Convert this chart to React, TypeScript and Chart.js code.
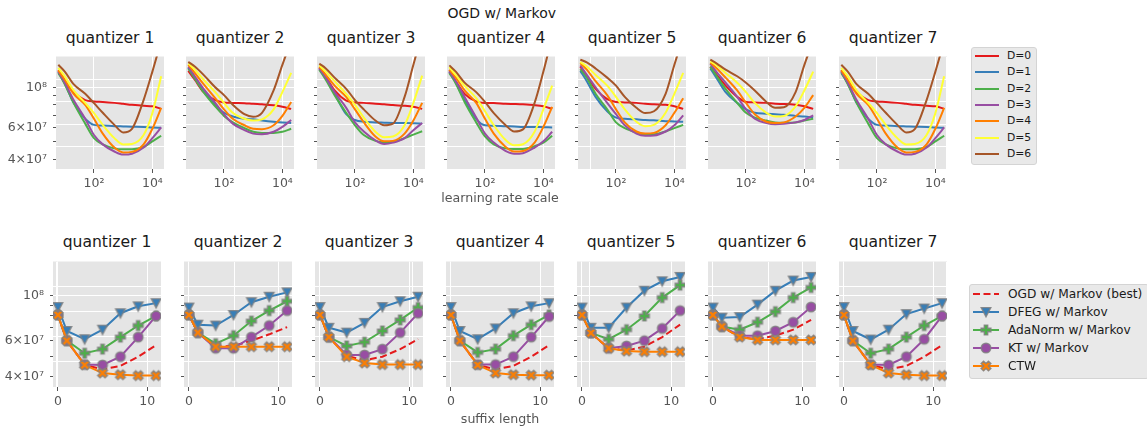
import React, { useEffect, useRef } from "react";
import { Chart, registerables } from "chart.js";

Chart.register(...registerables);

const FONT = "'DejaVu Sans', 'Liberation Sans', sans-serif";

// ---------------- data: top row (OGD w/ Markov, loss vs learning rate scale) ----------------
const LR_SCALE = [6, 10, 20, 50, 100, 200, 500, 1000, 2000, 5000, 10000, 20000];
const DEPTH_LABELS = ["D=0", "D=1", "D=2", "D=3", "D=4", "D=5", "D=6"];
const DEPTH_COLORS = ["#e41a1c", "#377eb8", "#4daf4a", "#984ea3", "#ff7f00", "#ffff33", "#a65628"];

const Q1_OGD = [
  [12.4e7, 10.7e7, 9.4e7, 8.5e7, 8.35e7, 8.3e7, 8.2e7, 8.1e7, 8.0e7, 7.9e7, 7.85e7, 7.6e7],
  [12.2e7, 10.5e7, 8.2e7, 6.7e7, 6.2e7, 6.15e7, 6.1e7, 6.08e7, 6.06e7, 6.04e7, 6.0e7, 5.97e7],
  [12.0e7, 10.4e7, 8.2e7, 6.3e7, 5.24e7, 4.84e7, 4.6e7, 4.55e7, 4.55e7, 4.68e7, 5.03e7, 5.4e7],
  [12.2e7, 10.6e7, 8.5e7, 6.7e7, 5.45e7, 4.84e7, 4.42e7, 4.25e7, 4.3e7, 4.65e7, 5.24e7, 6.0e7],
  [12.4e7, 11.0e7, 9.2e7, 8.0e7, 6.7e7, 5.55e7, 4.65e7, 4.37e7, 4.4e7, 4.84e7, 5.9e7, 7.7e7],
  [12.8e7, 11.5e7, 9.6e7, 8.2e7, 7.2e7, 6.2e7, 5.24e7, 4.84e7, 4.87e7, 5.45e7, 7.2e7, 11.5e7],
  [13.3e7, 12.2e7, 10.4e7, 9.2e7, 8.17e7, 7.23e7, 6.2e7, 5.63e7, 5.9e7, 8.5e7, 12.2e7, 18e7],
];
const Q2_OGD = [
  [12.3e7, 11.0e7, 9.4e7, 8.5e7, 8.25e7, 8.2e7, 8.17e7, 8.1e7, 8.05e7, 7.95e7, 7.8e7, 7.6e7],
  [12.8e7, 11.2e7, 9.5e7, 8.0e7, 7.23e7, 6.9e7, 6.7e7, 6.65e7, 6.55e7, 6.45e7, 6.4e7, 6.35e7],
  [12.7e7, 11.2e7, 9.4e7, 7.85e7, 6.95e7, 6.4e7, 5.95e7, 5.68e7, 5.6e7, 5.6e7, 5.68e7, 5.9e7],
  [13.0e7, 11.5e7, 9.8e7, 8.2e7, 7.1e7, 6.3e7, 5.8e7, 5.55e7, 5.5e7, 5.68e7, 6.04e7, 6.6e7],
  [13.3e7, 12.0e7, 10.4e7, 8.7e7, 7.55e7, 6.7e7, 6.17e7, 5.9e7, 5.87e7, 6.17e7, 6.95e7, 8.3e7],
  [13.5e7, 12.5e7, 11.0e7, 9.4e7, 8.2e7, 7.23e7, 6.7e7, 6.55e7, 6.65e7, 7.55e7, 9.4e7, 12.0e7],
  [13.8e7, 13.0e7, 11.7e7, 10.0e7, 9.05e7, 8.0e7, 7.1e7, 6.87e7, 7.23e7, 9.6e7, 13.3e7, 18e7],
];
const Q3_OGD = [
  [12.8e7, 11.4e7, 9.6e7, 8.45e7, 8.25e7, 8.2e7, 8.1e7, 8.05e7, 7.97e7, 7.9e7, 7.8e7, 7.6e7],
  [12.7e7, 11.2e7, 9.2e7, 7.1e7, 6.6e7, 6.45e7, 6.4e7, 6.38e7, 6.36e7, 6.35e7, 6.33e7, 6.3e7],
  [12.5e7, 11.0e7, 9.05e7, 7.23e7, 6.17e7, 5.45e7, 5.06e7, 4.98e7, 5.0e7, 5.24e7, 5.48e7, 5.72e7],
  [12.7e7, 11.3e7, 9.4e7, 7.7e7, 6.4e7, 5.7e7, 5.1e7, 4.87e7, 4.95e7, 5.24e7, 5.8e7, 6.35e7],
  [13.0e7, 11.7e7, 10.2e7, 8.85e7, 7.55e7, 6.41e7, 5.35e7, 5.03e7, 5.06e7, 5.55e7, 6.55e7, 8.2e7],
  [13.2e7, 12.2e7, 10.8e7, 9.2e7, 8.0e7, 6.8e7, 5.68e7, 5.3e7, 5.35e7, 6.17e7, 8.2e7, 11.6e7],
  [13.5e7, 12.7e7, 11.3e7, 9.8e7, 8.5e7, 7.55e7, 6.55e7, 6.17e7, 6.3e7, 8.85e7, 13.3e7, 20e7],
];
const Q4_OGD = [
  [12.4e7, 10.8e7, 9.2e7, 8.35e7, 8.2e7, 8.2e7, 8.1e7, 8.08e7, 8.05e7, 7.97e7, 7.85e7, 7.6e7],
  [12.2e7, 10.6e7, 8.5e7, 6.7e7, 6.17e7, 6.14e7, 6.1e7, 6.08e7, 6.04e7, 6.04e7, 6.02e7, 6.0e7],
  [12.0e7, 10.5e7, 8.3e7, 6.4e7, 5.35e7, 4.84e7, 4.6e7, 4.57e7, 4.57e7, 4.73e7, 4.95e7, 5.4e7],
  [12.2e7, 10.8e7, 8.85e7, 6.8e7, 5.55e7, 4.95e7, 4.46e7, 4.3e7, 4.33e7, 4.65e7, 5.03e7, 5.68e7],
  [12.5e7, 11.3e7, 9.6e7, 8.2e7, 6.7e7, 5.55e7, 4.7e7, 4.42e7, 4.45e7, 4.95e7, 6.04e7, 7.8e7],
  [12.9e7, 11.7e7, 10.2e7, 8.7e7, 7.37e7, 6.17e7, 5.13e7, 4.78e7, 4.85e7, 5.68e7, 7.55e7, 10.2e7],
  [13.2e7, 12.2e7, 10.6e7, 9.4e7, 8.3e7, 7.2e7, 6.2e7, 5.7e7, 5.86e7, 8.2e7, 12.2e7, 19e7],
];
const Q5_OGD = [
  [13.0e7, 11.5e7, 9.8e7, 8.6e7, 8.3e7, 8.25e7, 8.2e7, 8.1e7, 8.05e7, 8.0e7, 7.85e7, 7.6e7],
  [12.3e7, 10.8e7, 8.85e7, 7.37e7, 6.8e7, 6.7e7, 6.65e7, 6.6e7, 6.57e7, 6.5e7, 6.48e7, 6.45e7],
  [12.6e7, 11.3e7, 9.2e7, 7.55e7, 6.4e7, 5.95e7, 5.63e7, 5.48e7, 5.5e7, 5.7e7, 5.95e7, 6.2e7],
  [13.2e7, 11.7e7, 10.0e7, 8.2e7, 7.1e7, 6.17e7, 5.55e7, 5.4e7, 5.42e7, 5.7e7, 6.17e7, 7.0e7],
  [13.6e7, 12.5e7, 10.8e7, 9.05e7, 7.55e7, 6.4e7, 5.7e7, 5.55e7, 5.6e7, 6.17e7, 7.23e7, 8.7e7],
  [13.8e7, 13.0e7, 11.7e7, 10.2e7, 8.85e7, 7.55e7, 6.45e7, 6.1e7, 6.2e7, 7.23e7, 9.2e7, 12.0e7],
  [14.2e7, 13.7e7, 12.7e7, 11.3e7, 10.2e7, 8.85e7, 7.7e7, 7.2e7, 7.37e7, 9.2e7, 13.3e7, 19e7],
];
const Q6_OGD = [
  [13.0e7, 11.7e7, 10.2e7, 8.85e7, 8.3e7, 8.25e7, 8.2e7, 8.1e7, 8.08e7, 8.0e7, 7.85e7, 7.6e7],
  [12.7e7, 11.2e7, 9.4e7, 8.2e7, 7.55e7, 7.23e7, 7.15e7, 7.1e7, 7.05e7, 6.95e7, 6.9e7, 6.8e7],
  [13.0e7, 11.5e7, 9.8e7, 8.2e7, 7.23e7, 6.8e7, 6.55e7, 6.4e7, 6.38e7, 6.4e7, 6.55e7, 6.7e7],
  [13.5e7, 12.1e7, 10.6e7, 8.85e7, 7.55e7, 6.7e7, 6.35e7, 6.25e7, 6.28e7, 6.4e7, 6.6e7, 7.0e7],
  [13.7e7, 12.7e7, 11.3e7, 9.6e7, 8.2e7, 7.1e7, 6.45e7, 6.35e7, 6.4e7, 6.9e7, 7.7e7, 9.05e7],
  [13.9e7, 13.2e7, 12.0e7, 10.6e7, 9.4e7, 8.2e7, 7.23e7, 6.9e7, 6.95e7, 7.85e7, 9.6e7, 12.2e7],
  [14.2e7, 13.5e7, 12.5e7, 11.5e7, 10.6e7, 9.6e7, 8.3e7, 7.7e7, 7.75e7, 9.4e7, 13.3e7, 18e7],
];
const Q7_OGD = [
  [12.4e7, 10.7e7, 9.4e7, 8.5e7, 8.35e7, 8.3e7, 8.2e7, 8.1e7, 8.0e7, 7.9e7, 7.85e7, 7.6e7],
  [12.2e7, 10.5e7, 8.2e7, 6.7e7, 6.2e7, 6.15e7, 6.1e7, 6.08e7, 6.06e7, 6.04e7, 6.0e7, 5.97e7],
  [12.0e7, 10.4e7, 8.2e7, 6.3e7, 5.24e7, 4.84e7, 4.6e7, 4.55e7, 4.55e7, 4.68e7, 5.03e7, 5.4e7],
  [12.2e7, 10.6e7, 8.5e7, 6.7e7, 5.45e7, 4.84e7, 4.42e7, 4.25e7, 4.3e7, 4.65e7, 5.24e7, 6.0e7],
  [12.4e7, 11.0e7, 9.2e7, 8.0e7, 6.7e7, 5.55e7, 4.65e7, 4.37e7, 4.4e7, 4.84e7, 5.9e7, 7.7e7],
  [12.8e7, 11.5e7, 9.6e7, 8.2e7, 7.2e7, 6.2e7, 5.24e7, 4.84e7, 4.87e7, 5.45e7, 7.2e7, 11.5e7],
  [13.3e7, 12.2e7, 10.4e7, 9.2e7, 8.17e7, 7.23e7, 6.2e7, 5.63e7, 5.9e7, 8.5e7, 12.2e7, 18e7],
];
const TOP_SERIES = [Q1_OGD, Q2_OGD, Q3_OGD, Q4_OGD, Q5_OGD, Q6_OGD, Q7_OGD];

// ---------------- data: bottom row (loss vs suffix length) ----------------
const SUFFIX_LEN = [0, 1, 3, 5, 7, 9, 11];
const METHOD_LABELS = ["OGD w/ Markov (best)", "DFEG w/ Markov", "AdaNorm w/ Markov", "KT w/ Markov", "CTW"];
const METHOD_COLORS = ["#e41a1c", "#377eb8", "#4daf4a", "#984ea3", "#ff7f00"];
const METHOD_MARKERS = ["none", "tri", "plus", "circle", "x"];

const Q1_SUFFIX = [
  [8.04e7, 6.0e7, 4.55e7, 4.33e7, 4.5e7, 5.0e7, 5.7e7],
  [8.8e7, 6.7e7, 6.1e7, 6.8e7, 8.2e7, 8.87e7, 9.2e7],
  [8.04e7, 6.0e7, 5.2e7, 5.45e7, 6.25e7, 7.13e7, 7.95e7],
  [8.04e7, 6.0e7, 4.57e7, 4.55e7, 5.0e7, 6.25e7, 7.95e7],
  [8.04e7, 6.0e7, 4.55e7, 4.15e7, 4.07e7, 4.03e7, 4.03e7],
];
const Q2_SUFFIX = [
  [8.04e7, 6.58e7, 5.6e7, 5.65e7, 6.0e7, 6.45e7, 7.0e7],
  [8.75e7, 7.2e7, 7.13e7, 8.04e7, 9.3e7, 9.9e7, 10.4e7],
  [8.04e7, 6.58e7, 5.8e7, 6.35e7, 7.5e7, 8.45e7, 9.4e7],
  [8.04e7, 6.58e7, 5.5e7, 5.5e7, 6.25e7, 7.13e7, 8.45e7],
  [8.04e7, 6.58e7, 5.6e7, 5.6e7, 5.6e7, 5.6e7, 5.6e7],
];
const Q3_SUFFIX = [
  [8.04e7, 6.25e7, 5.05e7, 4.8e7, 5.0e7, 5.45e7, 6.1e7],
  [8.8e7, 6.95e7, 6.58e7, 7.35e7, 8.8e7, 9.4e7, 9.9e7],
  [8.04e7, 6.25e7, 5.65e7, 5.9e7, 6.7e7, 7.6e7, 8.75e7],
  [8.04e7, 6.25e7, 5.1e7, 5.1e7, 5.45e7, 6.58e7, 8.2e7],
  [8.04e7, 6.25e7, 5.0e7, 4.65e7, 4.57e7, 4.57e7, 4.57e7],
];
const Q4_SUFFIX = [
  [8.04e7, 6.0e7, 4.55e7, 4.33e7, 4.5e7, 5.0e7, 5.7e7],
  [8.8e7, 6.7e7, 6.1e7, 6.9e7, 8.2e7, 8.87e7, 9.2e7],
  [8.04e7, 6.0e7, 5.25e7, 5.45e7, 6.35e7, 7.2e7, 8.04e7],
  [8.04e7, 6.0e7, 4.57e7, 4.57e7, 5.0e7, 6.25e7, 7.9e7],
  [8.04e7, 6.0e7, 4.55e7, 4.15e7, 4.07e7, 4.05e7, 4.05e7],
];
const Q5_SUFFIX = [
  [8.04e7, 6.55e7, 5.5e7, 5.37e7, 5.6e7, 6.25e7, 7.2e7],
  [8.75e7, 6.95e7, 6.95e7, 8.75e7, 10.6e7, 11.8e7, 12.4e7],
  [8.04e7, 6.55e7, 6.1e7, 6.8e7, 7.95e7, 9.8e7, 11.3e7],
  [8.04e7, 6.55e7, 5.5e7, 5.65e7, 6.0e7, 6.9e7, 8.45e7],
  [8.04e7, 6.55e7, 5.5e7, 5.33e7, 5.29e7, 5.29e7, 5.29e7],
];
const Q6_SUFFIX = [
  [8.04e7, 7.05e7, 6.25e7, 6.1e7, 6.35e7, 6.8e7, 7.6e7],
  [8.75e7, 7.8e7, 7.85e7, 9.05e7, 10.6e7, 11.9e7, 12.4e7],
  [8.04e7, 7.05e7, 6.8e7, 7.4e7, 8.35e7, 9.8e7, 11.0e7],
  [8.04e7, 7.05e7, 6.35e7, 6.35e7, 6.7e7, 7.4e7, 8.8e7],
  [8.04e7, 7.05e7, 6.25e7, 6.05e7, 6.05e7, 6.05e7, 6.05e7],
];
const Q7_SUFFIX = [
  [8.04e7, 6.0e7, 4.55e7, 4.33e7, 4.5e7, 5.0e7, 5.7e7],
  [8.8e7, 6.7e7, 6.08e7, 6.8e7, 8.12e7, 8.65e7, 9.2e7],
  [8.04e7, 6.0e7, 5.2e7, 5.45e7, 6.25e7, 7.13e7, 7.95e7],
  [8.04e7, 6.0e7, 4.57e7, 4.55e7, 5.0e7, 6.1e7, 7.95e7],
  [8.04e7, 6.0e7, 4.55e7, 4.15e7, 4.07e7, 4.03e7, 4.03e7],
];
const BOTTOM_SERIES = [Q1_SUFFIX, Q2_SUFFIX, Q3_SUFFIX, Q4_SUFFIX, Q5_SUFFIX, Q6_SUFFIX, Q7_SUFFIX];

// ---------------- labels / ticks ----------------
const PANEL_TITLES = ["quantizer 1", "quantizer 2", "quantizer 3", "quantizer 4", "quantizer 5", "quantizer 6", "quantizer 7"];
const FIG_TITLE = "OGD w/ Markov";
const TOP_XLABEL = "learning rate scale";
const BOTTOM_XLABEL = "suffix length";
const Y_TICKS = [4e7, 5e7, 6e7, 7e7, 8e7, 9e7, 1e8];
const Y_TICK_TEXT: Record<string, string> = { "40000000": "4×10⁷", "60000000": "6×10⁷", "100000000": "10⁸" };
const LR_TICKS = [100, 10000];
const LR_TICK_TEXT: Record<string, string> = { "100": "10²", "10000": "10⁴" };
const SUFFIX_TICKS = [0, 10];
const SUFFIX_TICK_TEXT: Record<string, string> = { "0": "0", "10": "10" };
const BIG_GRID = [0, 0.2, 0.4, 0.6, 0.8, 1];

// ---------------- geometry ----------------
const TOP_LEFTS = [56, 186, 317, 447, 578, 708, 839];
const BOT_LEFTS = [53, 184, 315, 446, 577, 708, 839];
const PLOT_W = 108;
const TOP_Y = 51, TOP_H = 118, BOT_Y = 256, BOT_H = 131;
const BIG_L = 56, BIG_R = 946;
const PAD_L = 60, PAD_R = 16, PAD_T = 8, PAD_B = 26;
const Y_MIN = 3.54e7, Y_MAX = 1.478e8;
const LR_MIN = 5, LR_MAX = 25000;
const SUF_MIN = -0.55, SUF_MAX = 11.55;

const bgPlugin = {
  id: "panelBg",
  beforeDraw(chart: any) {
    const { ctx, chartArea: a } = chart;
    ctx.save();
    ctx.fillStyle = "#e5e5e5";
    ctx.fillRect(a.left, a.top, a.right - a.left, a.bottom - a.top);
    ctx.restore();
  },
};

function crossPoints(a: number, b: number, rot: number): number[][] {
  const base = [[-b, -a], [b, -a], [b, -b], [a, -b], [a, b], [b, b], [b, a], [-b, a], [-b, b], [-a, b], [-a, -b], [-b, -b]];
  const c = Math.cos(rot), s = Math.sin(rot);
  return base.map(([x, y]) => [x * c - y * s, x * s + y * c]);
}

function shapePoints(shape: string): number[][] | null {
  if (shape === "tri") return [[-4.8, -4.4], [4.8, -4.4], [0, 4.8]];
  if (shape === "plus") return crossPoints(4.9, 1.7, 0);
  if (shape === "x") return crossPoints(5.2, 1.7, Math.PI / 4);
  return null;
}

const EDGE = "rgba(128,128,128,0.85)";

function makeMarker(shape: string, fill: string): HTMLCanvasElement {
  const S = 16;
  const c = document.createElement("canvas");
  c.width = S;
  c.height = S;
  const g = c.getContext("2d")!;
  const m = S / 2;
  g.beginPath();
  const pts = shapePoints(shape);
  if (pts) {
    pts.forEach(([x, y], i) => (i === 0 ? g.moveTo(m + x, m + y) : g.lineTo(m + x, m + y)));
    g.closePath();
  } else {
    g.arc(m, m, 4.8, 0, Math.PI * 2);
  }
  g.fillStyle = fill;
  g.fill();
  g.lineWidth = 1.4;
  g.strokeStyle = EDGE;
  g.stroke();
  return c;
}

function Panel({ row, idx }: { row: number; idx: number }) {
  const ref = useRef<HTMLCanvasElement | null>(null);
  const L = row === 0 ? TOP_LEFTS[idx] : BOT_LEFTS[idx];
  const T = row === 0 ? TOP_Y : BOT_Y;
  const H = row === 0 ? TOP_H : BOT_H;
  const cw = PAD_L + PLOT_W + PAD_R;
  const ch = PAD_T + H + PAD_B;

  useEffect(() => {
    const canvas = ref.current;
    if (!canvas) return;
    let datasets: any[];
    if (row === 0) {
      datasets = TOP_SERIES[idx].map((vals, d) => ({
        label: DEPTH_LABELS[d],
        data: LR_SCALE.map((x, i) => ({ x, y: vals[i] })),
        borderColor: DEPTH_COLORS[d],
        backgroundColor: DEPTH_COLORS[d],
        borderWidth: 2,
        pointRadius: 0,
        fill: false,
        cubicInterpolationMode: "monotone",
        order: 6 - d,
      }));
    } else {
      datasets = BOTTOM_SERIES[idx].map((vals, m) => ({
        label: METHOD_LABELS[m],
        data: SUFFIX_LEN.map((x, i) => ({ x, y: vals[i] })),
        borderColor: METHOD_COLORS[m],
        backgroundColor: METHOD_COLORS[m],
        borderWidth: 2,
        borderDash: m === 0 ? [7, 3.5] : [],
        pointRadius: m === 0 ? 0 : 5,
        pointStyle: m === 0 ? "circle" : makeMarker(METHOD_MARKERS[m], METHOD_COLORS[m]),
        fill: false,
        tension: 0,
        order: 4 - m,
      }));
    }
    const gxMin = (L - BIG_L) / (BIG_R - BIG_L);
    const gxMax = (L + PLOT_W - BIG_L) / (BIG_R - BIG_L);
    const tickFont = { family: FONT, size: 12.5 };
    const xTicks = row === 0 ? LR_TICKS : SUFFIX_TICKS;
    const xText = row === 0 ? LR_TICK_TEXT : SUFFIX_TICK_TEXT;

    const chart = new Chart(canvas, {
      type: "line",
      data: { datasets },
      plugins: [bgPlugin],
      options: {
        responsive: false,
        maintainAspectRatio: false,
        animation: false,
        devicePixelRatio: 1,
        events: [],
        layout: { padding: { left: 0, right: PAD_R, top: PAD_T, bottom: 0 } },
        plugins: { legend: { display: false }, tooltip: { enabled: false }, title: { display: false } },
        scales: {
          x: {
            type: row === 0 ? "logarithmic" : "linear",
            position: "bottom",
            min: row === 0 ? LR_MIN : SUF_MIN,
            max: row === 0 ? LR_MAX : SUF_MAX,
            afterBuildTicks: (s: any) => {
              s.ticks = xTicks.map((v) => ({ value: v }));
            },
            afterFit: (s: any) => {
              s.height = PAD_B;
            },
            grid: { color: "#ffffff", lineWidth: 1, drawTicks: true, tickLength: 4, tickColor: "#555555", tickWidth: 1 },
            border: { display: false },
            ticks: {
              autoSkip: false,
              maxRotation: 0,
              padding: 3,
              color: "#555555",
              font: tickFont,
              callback: (v: any) => xText[String(v)] ?? "",
            },
          },
          y: {
            type: "logarithmic",
            position: "left",
            min: Y_MIN,
            max: Y_MAX,
            afterBuildTicks: (s: any) => {
              s.ticks = Y_TICKS.map((v) => ({ value: v }));
            },
            afterFit: (s: any) => {
              s.width = PAD_L;
            },
            grid: {
              color: (c: any) => (c.tick && Math.abs(c.tick.value - 1e8) < 1 ? "#ffffff" : "rgba(0,0,0,0)"),
              lineWidth: 1,
              drawTicks: true,
              tickLength: 3,
              tickColor: "#555555",
              tickWidth: 1,
            },
            border: { display: false },
            ticks: {
              autoSkip: false,
              padding: 6,
              color: "#555555",
              font: tickFont,
              callback: (v: any) => (idx === 0 ? Y_TICK_TEXT[String(Math.round(v))] ?? "" : ""),
            },
          },
          gx: {
            type: "linear",
            position: "top",
            min: gxMin,
            max: gxMax,
            afterBuildTicks: (s: any) => {
              s.ticks = BIG_GRID.filter((v) => v > gxMin + 1e-4 && v < gxMax - 1e-4).map((v) => ({ value: v }));
            },
            afterFit: (s: any) => {
              s.height = 0;
            },
            grid: { color: "#ffffff", lineWidth: 1, drawTicks: false },
            border: { display: false },
            ticks: { display: false },
          },
          gy: {
            type: "linear",
            position: "right",
            min: 0,
            max: 1,
            afterBuildTicks: (s: any) => {
              s.ticks = BIG_GRID.filter((v) => v > 1e-4 && v < 1 - 1e-4).map((v) => ({ value: v }));
            },
            afterFit: (s: any) => {
              s.width = 0;
            },
            grid: { color: "#ffffff", lineWidth: 1, drawTicks: false },
            border: { display: false },
            ticks: { display: false },
          },
        },
      } as any,
    } as any);
    return () => chart.destroy();
  }, [row, idx]);

  return (
    <canvas
      ref={ref}
      width={cw}
      height={ch}
      style={{ position: "absolute", left: L - PAD_L, top: T - PAD_T, width: cw, height: ch }}
    />
  );
}

function LegendMarker({ shape, fill, cx, cy }: { shape: string; fill: string; cx: number; cy: number }) {
  const pts = shapePoints(shape);
  return (
    <svg width={16} height={16} style={{ position: "absolute", left: cx - 8, top: cy - 8, overflow: "visible" }}>
      {pts ? (
        <polygon
          points={pts.map(([x, y]) => `${8 + x},${8 + y}`).join(" ")}
          fill={fill}
          stroke={EDGE}
          strokeWidth={1.4}
        />
      ) : (
        <circle cx={8} cy={8} r={4.8} fill={fill} stroke={EDGE} strokeWidth={1.4} />
      )}
    </svg>
  );
}

function TopLegend() {
  const rows = DEPTH_LABELS.map((lab, i) => 56 + i * 16.33);
  return (
    <>
      <div
        style={{
          position: "absolute",
          left: 971,
          top: 47,
          width: 66,
          height: 118,
          background: "#e9e9e9",
          border: "1px solid #d4d4d4",
          borderRadius: 3,
          boxSizing: "border-box",
        }}
      />
      {DEPTH_LABELS.map((lab, i) => (
        <React.Fragment key={lab}>
          <div style={{ position: "absolute", left: 975, top: rows[i] - 1, width: 24, height: 2, background: DEPTH_COLORS[i] }} />
          <div
            style={{
              position: "absolute",
              left: 1007,
              top: rows[i] - 7,
              fontFamily: FONT,
              fontSize: 10.8,
              lineHeight: "14px",
              color: "#1a1a1a",
              whiteSpace: "nowrap",
            }}
          >
            {lab}
          </div>
        </React.Fragment>
      ))}
    </>
  );
}

function BottomLegend() {
  const rows = METHOD_LABELS.map((lab, i) => 294 + i * 18.1);
  return (
    <>
      <div
        style={{
          position: "absolute",
          left: 969,
          top: 284,
          width: 180,
          height: 95,
          background: "#e9e9e9",
          border: "1px solid #d4d4d4",
          borderRadius: 3,
          boxSizing: "border-box",
        }}
      />
      {METHOD_LABELS.map((lab, i) => (
        <React.Fragment key={lab}>
          <svg width={28} height={6} style={{ position: "absolute", left: 972, top: rows[i] - 3 }}>
            <line
              x1={1}
              y1={3}
              x2={27}
              y2={3}
              stroke={METHOD_COLORS[i]}
              strokeWidth={2}
              strokeDasharray={i === 0 ? "7 3.5" : undefined}
            />
          </svg>
          {METHOD_MARKERS[i] !== "none" && (
            <LegendMarker shape={METHOD_MARKERS[i]} fill={METHOD_COLORS[i]} cx={986} cy={rows[i]} />
          )}
          <div
            style={{
              position: "absolute",
              left: 1008,
              top: rows[i] - 8,
              fontFamily: FONT,
              fontSize: 12.2,
              lineHeight: "16px",
              color: "#1a1a1a",
              whiteSpace: "nowrap",
            }}
          >
            {lab}
          </div>
        </React.Fragment>
      ))}
    </>
  );
}

function TextAt({ text, cx, top, size, color, lh }: { text: string; cx: number; top: number; size: number; color: string; lh: number }) {
  return (
    <div
      style={{
        position: "absolute",
        left: cx - 150,
        width: 300,
        top,
        textAlign: "center",
        fontFamily: FONT,
        fontSize: size,
        lineHeight: `${lh}px`,
        color,
        whiteSpace: "nowrap",
      }}
    >
      {text}
    </div>
  );
}

export default function App() {
  return (
    <div
      style={{
        position: "absolute",
        left: 0,
        top: 0,
        width: 1147,
        height: 431,
        overflow: "hidden",
        background: "#ffffff",
      }}
    >
      <TextAt text={FIG_TITLE} cx={501.7} top={5.5} size={14} color="#1a1a1a" lh={14} />
      {PANEL_TITLES.map((t, i) => (
        <TextAt key={"tt" + i} text={t} cx={TOP_LEFTS[i] + PLOT_W / 2} top={30.1} size={15.6} color="#1a1a1a" lh={16} />
      ))}
      {PANEL_TITLES.map((t, i) => (
        <TextAt key={"bt" + i} text={t} cx={BOT_LEFTS[i] + PLOT_W / 2} top={233.8} size={15.6} color="#1a1a1a" lh={16} />
      ))}
      {PANEL_TITLES.map((t, i) => (
        <Panel key={"tp" + i} row={0} idx={i} />
      ))}
      {PANEL_TITLES.map((t, i) => (
        <Panel key={"bp" + i} row={1} idx={i} />
      ))}
      <TextAt text={TOP_XLABEL} cx={500} top={190.9} size={12.6} color="#555555" lh={14} />
      <TextAt text={BOTTOM_XLABEL} cx={500} top={412} size={12.6} color="#555555" lh={14} />
      <TopLegend />
      <BottomLegend />
    </div>
  );
}
